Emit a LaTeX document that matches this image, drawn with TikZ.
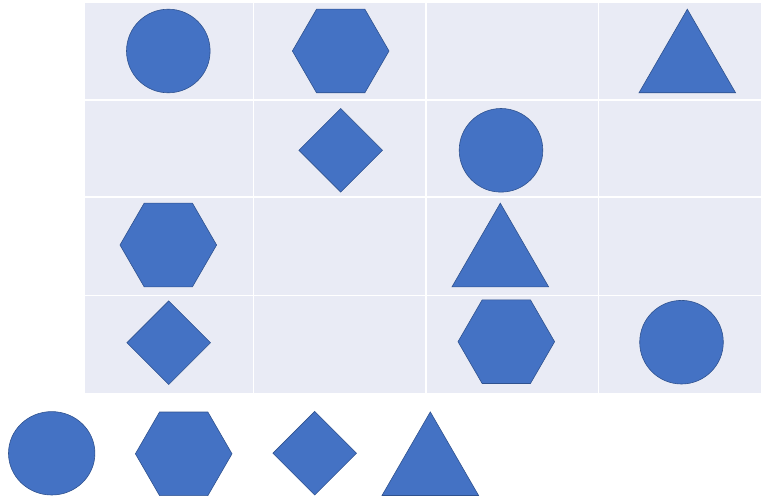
\documentclass[tikz,border=0pt]{standalone}
\definecolor{feldgrund}{RGB}{233,235,245}
\definecolor{formblau}{RGB}{68,114,196}
\definecolor{formrand}{RGB}{47,82,143}
\tikzset{form/.style={fill=formblau, draw=formrand, line width=0.6pt}}
% Formen, jeweils um den Mittelpunkt (#1,#2)
\newcommand{\kreis}[2]{\draw[form] (#1,#2) circle[radius=41.8];}
\newcommand{\sechseck}[2]{\draw[form] (#1,#2) ++(-48.3,0) -- ++(24.15,-41.8) -- ++(48.3,0)
  -- ++(24.15,41.8) -- ++(-24.15,41.8) -- ++(-48.3,0) -- cycle;}
\newcommand{\raute}[2]{\draw[form] (#1,#2) ++(-41.8,0) -- ++(41.8,-41.8) -- ++(41.8,41.8)
  -- ++(-41.8,41.8) -- cycle;}
\newcommand{\dreieck}[2]{\draw[form] (#1,#2) ++(0,-41.8) -- ++(48.3,83.6) -- ++(-96.6,0) -- cycle;}
\begin{document}
\begin{tikzpicture}[x=1pt, y=-1pt, line join=miter]
  \useasboundingbox (0,0) rectangle (761,500);
  % Feld mit Gitterlinien
  \fill[feldgrund] (84.5,3) rectangle (761,392.7);
  \draw[white, line width=1.6pt] (253.5,3) -- (253.5,392.7) (426,3) -- (426,392.7) (598.3,3) -- (598.3,392.7)
    (84.5,99.8) -- (761,99.8) (84.5,197.3) -- (761,197.3) (84.5,295.3) -- (761,295.3);
  % Zeile 1
  \kreis{168.3}{51}
  \sechseck{340.7}{51}
  \dreieck{687.3}{51}
  % Zeile 2
  \raute{340.7}{150.3}
  \kreis{501}{150.3}
  % Zeile 3
  \sechseck{168.3}{245}
  \dreieck{500.3}{245}
  % Zeile 4
  \raute{168.7}{342.7}
  \sechseck{506.3}{341.7}
  \kreis{681.5}{342.2}
  % Vorrat unter dem Feld
  \draw[form] (51.7,453.3) ellipse[x radius=43.2, y radius=41.7];
  \sechseck{183.7}{453.8}
  \raute{314.7}{453.2}
  \dreieck{430.3}{453.7}
\end{tikzpicture}
\end{document}
